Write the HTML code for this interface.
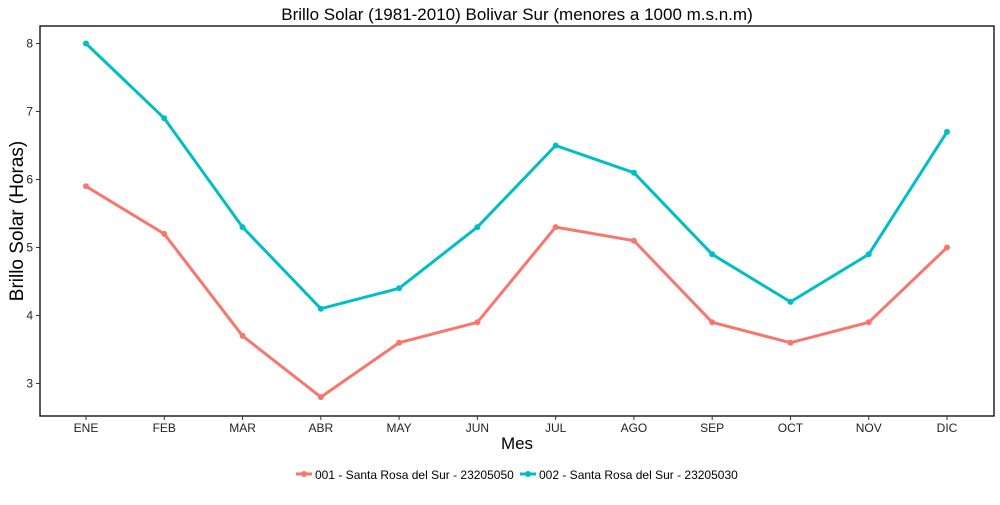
<!DOCTYPE html>
<html><head><meta charset="utf-8"><style>
body{margin:0;background:#fff;font-family:"Liberation Sans",Arial,sans-serif}
svg text{font-family:"Liberation Sans",Arial,sans-serif}
</style></head><body>
<svg id="c" width="1000" height="500">
<text x="517" y="20" text-anchor="middle" font-size="17" fill="#000">Brillo Solar (1981-2010) Bolivar Sur (menores a 1000 m.s.n.m)</text>
<rect x="40" y="26" width="954" height="390" fill="none" stroke="#000" stroke-width="1.3"/>
<g id="axes"></g>
<g id="series"></g>
<text x="517" y="449" text-anchor="middle" font-size="17">Mes</text>
<text transform="translate(23,221) rotate(-90)" text-anchor="middle" font-size="19">Brillo Solar (Horas)</text>
<g>
<g>
<line x1="296" y1="474" x2="312" y2="474" stroke="#F8766D" stroke-width="3"/><circle cx="304" cy="474" r="3" fill="#F8766D"/>
<text x="315" y="479" font-size="12">001 - Santa Rosa del Sur - 23205050</text></g>
<g>
<line x1="520" y1="474" x2="536" y2="474" stroke="#00BFC4" stroke-width="3"/><circle cx="528" cy="474" r="3" fill="#00BFC4"/>
<text x="539" y="479" font-size="12">002 - Santa Rosa del Sur - 23205030</text></g>
</g>
</svg>
<script>
const months=["ENE","FEB","MAR","ABR","MAY","JUN","JUL","AGO","SEP","OCT","NOV","DIC"];
const serie001=[5.9,5.2,3.7,2.8,3.6,3.9,5.3,5.1,3.9,3.6,3.9,5.0];
const serie002=[8.0,6.9,5.3,4.1,4.4,5.3,6.5,6.1,4.9,4.2,4.9,6.7];
const yTicks=[3,4,5,6,7,8];
const NS="http://www.w3.org/2000/svg";
const xs=i=>86+i*(947-86)/11;
const ys=v=>43.5+(8-v)*68;
function mk(t,a,p){const e=document.createElementNS(NS,t);for(const k in a)e.setAttribute(k,a[k]);p.appendChild(e);return e;}
const ax=document.getElementById('axes');
yTicks.forEach(v=>{
 const l=mk('line',{x1:36,x2:40,y1:ys(v),y2:ys(v),stroke:'#333'},ax);
 
 
 const t=mk('text',{x:33,y:ys(v)+4,'text-anchor':'end','font-size':12,fill:'#222'},ax);t.textContent=v;
 
 
});
months.forEach((m,i)=>{
 const l=mk('line',{x1:xs(i),x2:xs(i),y1:416,y2:420,stroke:'#333'},ax);
 
 
 const t=mk('text',{x:xs(i),y:432,'text-anchor':'middle','font-size':12,fill:'#222'},ax);t.textContent=m;
 
 
});
const sg=document.getElementById('series');
[[serie001,'#F8766D','series-001'],[serie002,'#00BFC4','series-002']].forEach(([d,c,n])=>{
 const p=mk('polyline',{points:d.map((v,i)=>xs(i)+','+ys(v)).join(' '),fill:'none',stroke:c,'stroke-width':3,'stroke-linejoin':'round'},sg);
 
 
 d.forEach((v,i)=>{const ci=mk('circle',{cx:xs(i),cy:ys(v),r:3,fill:c},sg);
 
 });
});
</script>
</body></html>
